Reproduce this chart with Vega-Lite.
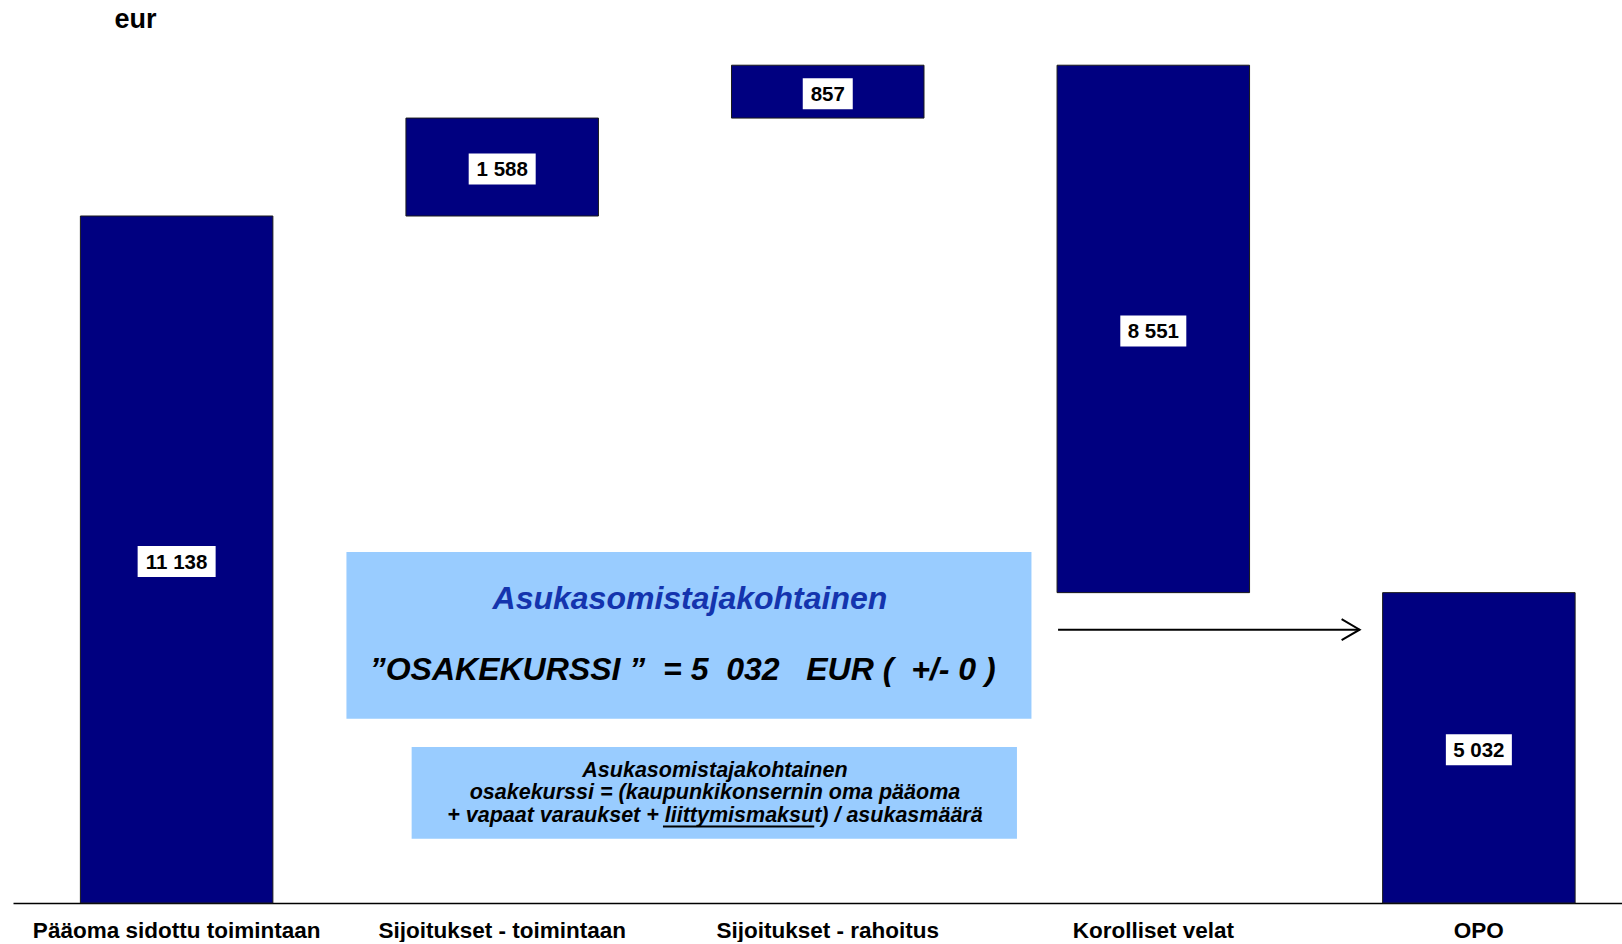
{
  "$schema": "https://vega.github.io/schema/vega-lite/v6.json",
  "width": 1609,
  "height": 902,
  "padding": {"left": 13, "top": 1, "right": 0, "bottom": 0},
  "background": "white",
  "config": {"view": {"stroke": null}, "font": "Liberation Sans"},
  "data": {
    "values": [
      {"cat": "Pääoma sidottu toimintaan", "start": 0, "end": 11138, "label": "11 138"},
      {"cat": "Sijoitukset - toimintaan", "start": 11138, "end": 12726, "label": "1 588"},
      {"cat": "Sijoitukset - rahoitus", "start": 12726, "end": 13583, "label": "857"},
      {"cat": "Korolliset velat", "start": 5032, "end": 13583, "label": "8 551"},
      {"cat": "OPO", "start": 0, "end": 5032, "label": "5 032"}
    ]
  },
  "layer": [
    {
      "mark": {"type": "bar", "fill": "#000080", "stroke": "#1a1a1a", "strokeWidth": 1},
      "encoding": {
        "x": {
          "field": "cat", "type": "nominal", "sort": null,
          "scale": {
            "type": "band",
            "domain": ["Pääoma sidottu toimintaan", "Sijoitukset - toimintaan", "Sijoitukset - rahoitus", "Korolliset velat", "OPO"],
            "paddingInner": 0.4087, "paddingOuter": 0.1755, "align": 0.5897, "round": false
          },
          "axis": {
            "title": null, "domain": true, "domainColor": "#000000", "domainWidth": 1.5,
            "ticks": false, "tickSize": 0, "labelPadding": 34, "labelBaseline": "alphabetic",
            "labelFontSize": 22.5, "labelFontWeight": "bold", "labelFont": "Liberation Sans",
            "labelColor": "#000000", "labelAngle": 0, "labelLimit": 0, "labelOverlap": false, "grid": false
          }
        },
        "y": {
          "field": "start", "type": "quantitative",
          "scale": {"domain": [0, 14624], "nice": false, "zero": true},
          "axis": {
            "title": "eur", "titleAngle": 0, "titleX": 101, "titleY": 26, "titleAlign": "left",
            "titleBaseline": "alphabetic", "titleFontSize": 27, "titleFontWeight": "bold",
            "titleFont": "Liberation Sans", "titleColor": "#000000",
            "domain": false, "ticks": false, "labels": false, "grid": false
          }
        },
        "y2": {"field": "end"}
      }
    },
    {
      "transform": [{"calculate": "(datum.start + datum.end) / 2", "as": "mid"}],
      "mark": {"type": "point", "filled": true, "fill": "#ffffff", "opacity": 1, "strokeWidth": 0, "yOffset": 2},
      "encoding": {
        "x": {"field": "cat", "type": "nominal", "sort": null},
        "y": {"field": "mid", "type": "quantitative"},
        "size": {"value": 4},
        "shape": {
          "field": "label", "type": "nominal", "legend": null,
          "scale": {
            "domain": ["11 138", "1 588", "857", "8 551", "5 032"],
            "range": ["M-39,-15.5H39V15.5H-39Z", "M-33.5,-15.5H33.5V15.5H-33.5Z", "M-25,-15.5H25V15.5H-25Z", "M-33,-15.5H33V15.5H-33Z", "M-33,-15.5H33V15.5H-33Z"]
          }
        }
      }
    },
    {
      "transform": [{"calculate": "(datum.start + datum.end) / 2", "as": "mid"}],
      "mark": {"type": "text", "font": "Liberation Sans", "fontSize": 20.5, "fontWeight": "bold", "color": "#000000", "align": "center", "baseline": "middle", "yOffset": 3},
      "encoding": {
        "x": {"field": "cat", "type": "nominal", "sort": null},
        "y": {"field": "mid", "type": "quantitative"},
        "text": {"field": "label"}
      }
    },
    {
      "data": {"values": [{}]},
      "mark": {"type": "rect", "fill": "#99CCFF", "xOffset": -59.5, "x2Offset": -25.6},
      "encoding": {
        "x": {"datum": "Sijoitukset - toimintaan", "bandPosition": 0},
        "x2": {"datum": "Korolliset velat", "bandPosition": 0},
        "y": {"datum": 5690, "type": "quantitative"},
        "y2": {"datum": 2988}
      }
    },
    {
      "data": {"values": [{}]},
      "mark": {"type": "rect", "fill": "#99CCFF", "xOffset": 5.7, "x2Offset": -40.1},
      "encoding": {
        "x": {"datum": "Sijoitukset - toimintaan", "bandPosition": 0},
        "x2": {"datum": "Korolliset velat", "bandPosition": 0},
        "y": {"datum": 2529, "type": "quantitative"},
        "y2": {"datum": 1042}
      }
    },
    {
      "data": {"values": [{}]},
      "mark": {"type": "text", "font": "Liberation Sans", "fontSize": 32, "fontWeight": "bold", "fontStyle": "italic", "color": "#1434AE", "align": "center", "baseline": "alphabetic", "xOffset": -137.8},
      "encoding": {
        "x": {"datum": "Sijoitukset - rahoitus", "bandPosition": 0.5},
        "y": {"datum": 4765, "type": "quantitative"},
        "text": {"value": "Asukasomistajakohtainen"}
      }
    },
    {
      "data": {"values": [{}]},
      "mark": {"type": "text", "font": "Liberation Sans", "fontSize": 32, "fontWeight": "bold", "fontStyle": "italic", "color": "#000000", "align": "center", "baseline": "alphabetic", "xOffset": -145.1},
      "encoding": {
        "x": {"datum": "Sijoitukset - rahoitus", "bandPosition": 0.5},
        "y": {"datum": 3615, "type": "quantitative"},
        "text": {"value": "”OSAKEKURSSI ”\u00a0 = 5\u00a0 032\u00a0\u00a0 EUR (\u00a0 +/- 0 )"}
      }
    },
    {
      "data": {"values": [{}]},
      "mark": {"type": "text", "font": "Liberation Sans", "fontSize": 21.5, "fontWeight": "bold", "fontStyle": "italic", "color": "#000000", "align": "center", "baseline": "alphabetic", "lineHeight": 22.5, "xOffset": -112.8},
      "encoding": {
        "x": {"datum": "Sijoitukset - rahoitus", "bandPosition": 0.5},
        "y": {"datum": 2043, "type": "quantitative"},
        "text": {"value": ["Asukasomistajakohtainen", "osakekurssi = (kaupunkikonsernin oma pääoma", "+ vapaat varaukset + liittymismaksut) / asukasmäärä"]}
      }
    },
    {
      "data": {"values": [{}]},
      "mark": {"type": "rule", "color": "#000000", "strokeWidth": 2, "xOffset": -164.8, "x2Offset": -13.5},
      "encoding": {
        "x": {"datum": "Sijoitukset - rahoitus", "bandPosition": 0.5},
        "x2": {"datum": "Sijoitukset - rahoitus", "bandPosition": 0.5},
        "y": {"datum": 1240, "type": "quantitative"}
      }
    },
    {
      "data": {"values": [{}]},
      "mark": {"type": "rule", "color": "#000000", "strokeWidth": 2, "xOffset": 1, "x2Offset": -23},
      "encoding": {
        "x": {"datum": "Korolliset velat", "bandPosition": 0},
        "x2": {"datum": "OPO", "bandPosition": 0},
        "y": {"datum": 4431, "type": "quantitative"}
      }
    },
    {
      "data": {"values": [{}]},
      "mark": {"type": "point", "filled": false, "stroke": "#000000", "strokeWidth": 2, "opacity": 1, "shape": "M-18,-10.5L0,0L-18,10.5", "size": 4, "xOffset": -23},
      "encoding": {
        "x": {"datum": "OPO", "bandPosition": 0},
        "y": {"datum": 4431, "type": "quantitative"}
      }
    }
  ]
}
